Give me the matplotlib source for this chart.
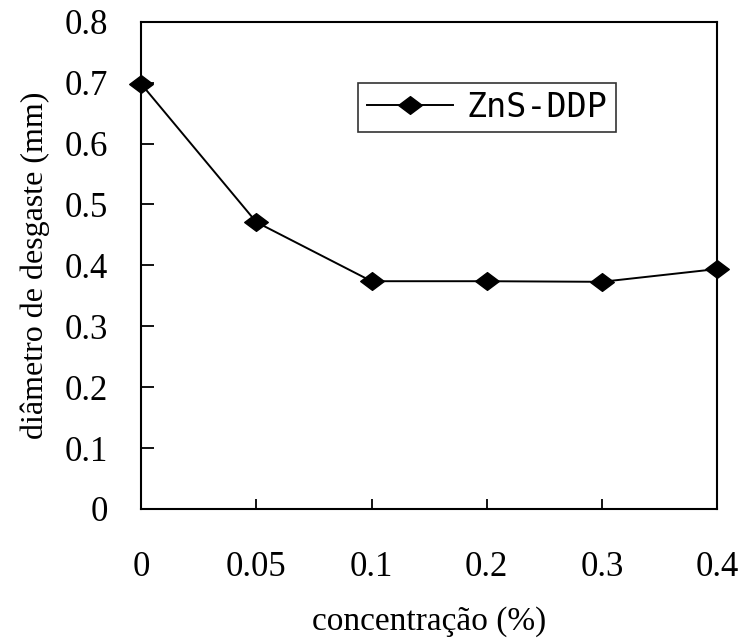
import numpy as np
import matplotlib.pyplot as plt
from matplotlib.path import Path

# data
conc_labels = ['0', '0.05', '0.1', '0.2', '0.3', '0.4']
wear_diam = [0.698, 0.471, 0.374, 0.374, 0.373, 0.394]
y_ticks = [0, 0.1, 0.2, 0.3, 0.4, 0.5, 0.6, 0.7, 0.8]
y_labels = ['0', '0.1', '0.2', '0.3', '0.4', '0.5', '0.6', '0.7', '0.8']

plt.rcParams['font.family'] = ['Liberation Serif', 'DejaVu Serif']

fig = plt.figure(figsize=(7.43, 6.41), dpi=100)
ax = fig.add_axes([0.190, 0.206, 0.775, 0.760])

# slightly flattened diamond
diamond = Path([(-1, 0), (0, 0.75), (1, 0), (0, -0.75), (-1, 0)],
               [Path.MOVETO, Path.LINETO, Path.LINETO, Path.LINETO, Path.CLOSEPOLY])

x = np.arange(len(conc_labels))
ax.plot(x, wear_diam, color='black', lw=1.4, marker=diamond, ms=17,
        mfc='black', mec='black', clip_on=False, label='ZnS-DDP', zorder=5)

ax.set_xlim(0, len(conc_labels) - 1)
ax.set_ylim(0, 0.8)
ax.set_xticks(x)
ax.set_xticklabels(conc_labels)
ax.set_yticks(y_ticks)
ax.set_yticklabels(y_labels)

ax.tick_params(axis='both', direction='in', labelsize=25, width=1.3)
ax.tick_params(axis='x', length=7, pad=30)
ax.tick_params(axis='y', length=9, pad=24)
for s in ax.spines.values():
    s.set_linewidth(1.5)

ax.set_xlabel('concentração (%)', fontsize=24, labelpad=16)
ax.set_ylabel('diâmetro de desgaste (mm)', fontsize=23, labelpad=10)

leg = ax.legend(loc='upper left', bbox_to_anchor=(0.377, 0.875), frameon=True,
                fancybox=False, handlelength=2.6, handletextpad=0.4,
                borderpad=0.25, borderaxespad=0,
                prop={'family': 'DejaVu Sans Mono', 'size': 24})
leg.get_frame().set_edgecolor('black')
leg.get_frame().set_linewidth(1.2)

fig.savefig('out.png', dpi=100)
